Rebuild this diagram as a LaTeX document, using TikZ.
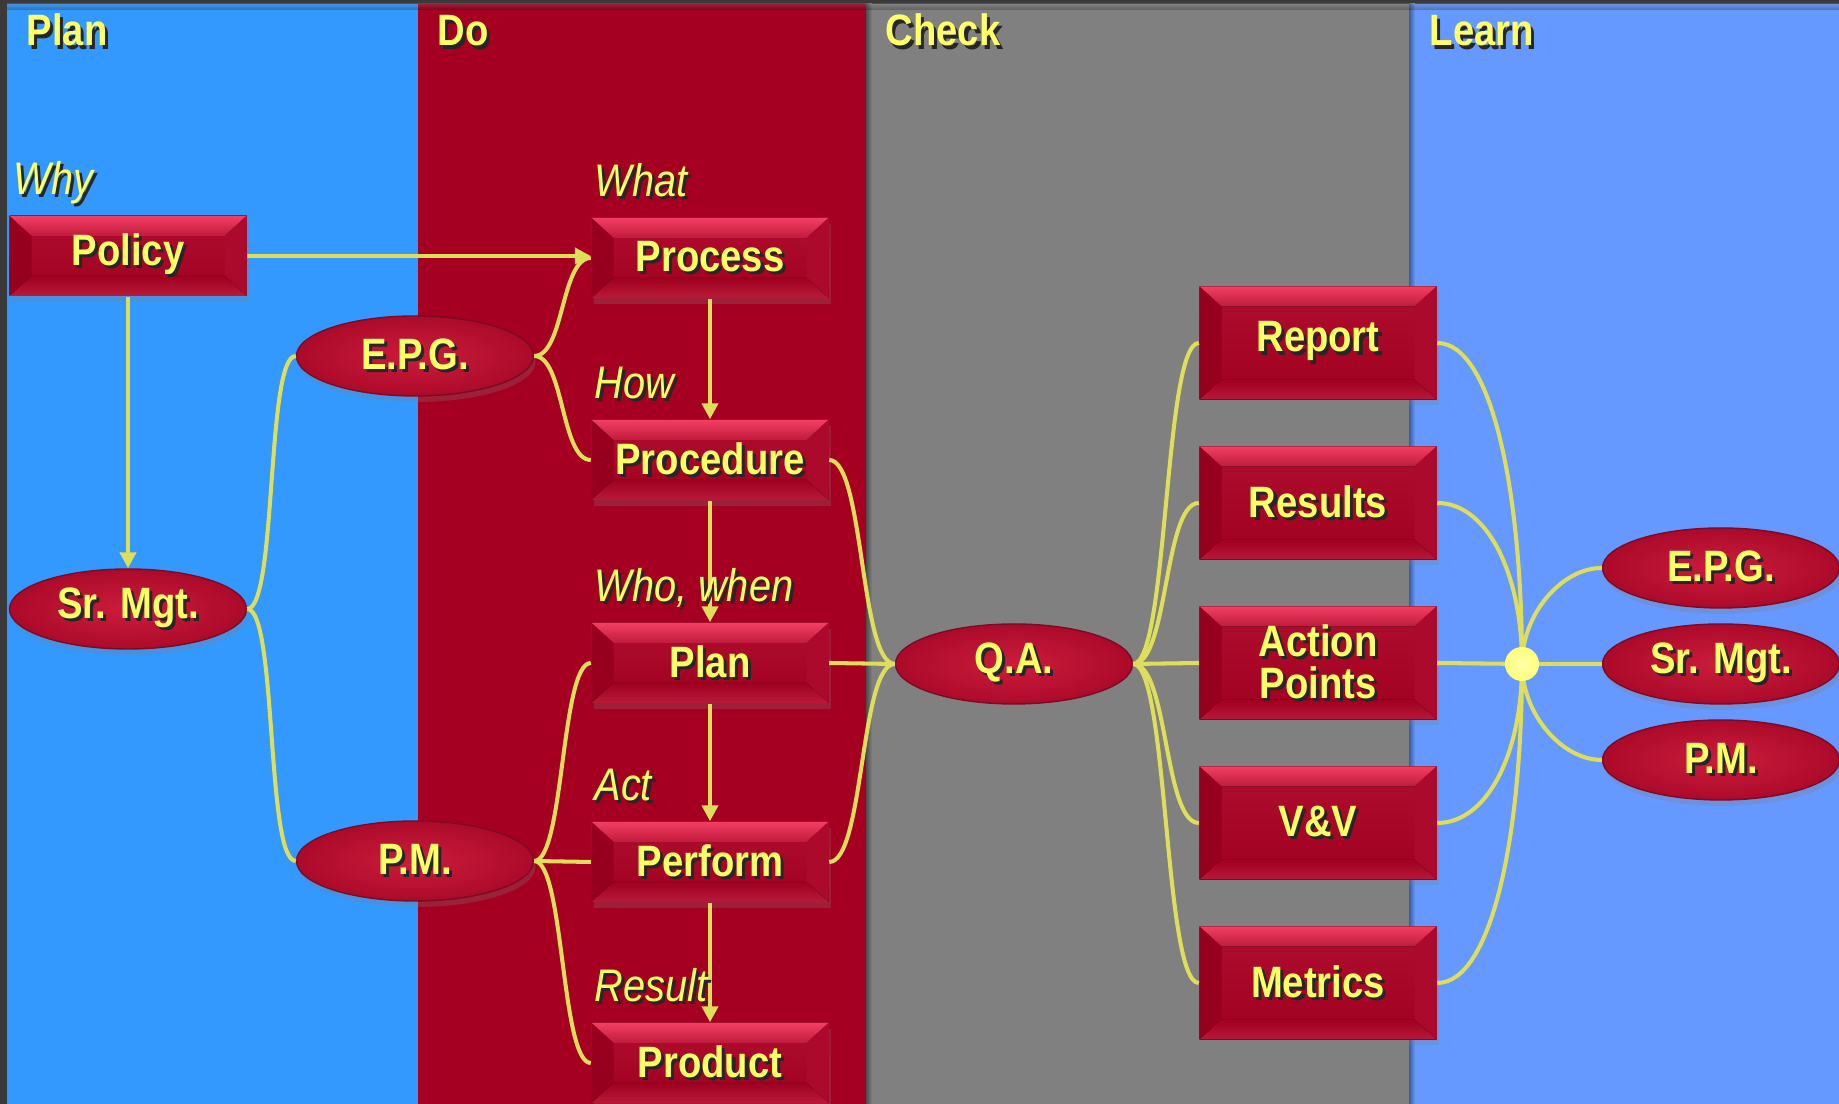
\documentclass[tikz,border=0pt]{standalone}
\usepackage{fontspec}
\setmainfont{Liberation Sans}[FakeStretch=0.87]
\usetikzlibrary{
	arrows.meta,
	calc,
	shadows,
	shapes.geometric,
}
\definecolor{plancol}{RGB}{51,153,255}
\definecolor{docol}{RGB}{165,0,33}
\definecolor{checkcol}{RGB}{128,128,128}
\definecolor{learncol}{RGB}{102,153,255}
\definecolor{edgecol}{RGB}{58,58,58}
\definecolor{linkcol}{RGB}{222,222,90}
\definecolor{txtyellow}{RGB}{255,255,102}
\definecolor{hubcol}{RGB}{255,255,120}
\definecolor{midtop}{RGB}{176,14,48}
\definecolor{midbot}{RGB}{160,0,32}
\definecolor{bvtop}{RGB}{242,62,98}
\definecolor{bvtopb}{RGB}{192,26,60}
\definecolor{bvleft}{RGB}{150,0,30}
\definecolor{bvright}{RGB}{172,10,45}
\definecolor{bvbot}{RGB}{160,0,32}
\definecolor{bvbotb}{RGB}{186,26,56}
\definecolor{ellin}{RGB}{204,28,60}
\definecolor{ellout}{RGB}{172,10,42}
\definecolor{ellline}{RGB}{125,10,36}
\newcommand{\boxfont}{\fontsize{12.5}{12}\selectfont\bfseries}
\newcommand{\lblfont}{\fontsize{13}{13}\selectfont\itshape}
\newcommand{\shd}[1]{\leavevmode\rlap{\hspace{0.9pt}\raisebox{-0.9pt}{\color{black!85}#1}}#1}
\tikzset{
	bevel/.style={rectangle, minimum width=2.37cm, minimum height=0.8cm, inner sep=0pt,
		top color=midtop, bottom color=midbot, text=txtyellow, font=\boxfont, align=center,
		drop shadow={shadow xshift=0.02cm, shadow yshift=-0.06cm, opacity=0.25},
		path picture={
			\coordinate (bnw) at (path picture bounding box.north west);
			\coordinate (bne) at (path picture bounding box.north east);
			\coordinate (bsw) at (path picture bounding box.south west);
			\coordinate (bse) at (path picture bounding box.south east);
			\fill[top color=bvtop, bottom color=bvtopb] (bnw) -- (bne) -- ($(bne)+(-0.22,-0.2)$) -- ($(bnw)+(0.22,-0.2)$) -- cycle;
			\fill[bvleft] (bnw) -- ($(bnw)+(0.22,-0.2)$) -- ($(bsw)+(0.22,0.2)$) -- (bsw) -- cycle;
			\fill[bvright] (bne) -- ($(bne)+(-0.22,-0.2)$) -- ($(bse)+(-0.22,0.2)$) -- (bse) -- cycle;
			\fill[top color=bvbot, bottom color=bvbotb] (bsw) -- (bse) -- ($(bse)+(-0.22,0.2)$) -- ($(bsw)+(0.22,0.2)$) -- cycle;
		}},
	tallbox/.style={bevel, minimum height=1.13cm},
	oval/.style={ellipse, minimum width=2.37cm, minimum height=0.8cm, inner sep=0pt,
		inner color=ellin, outer color=ellout, draw=ellline, line width=0.4pt,
		text=txtyellow, font=\boxfont,
		drop shadow={shadow xshift=0.02cm, shadow yshift=-0.06cm, opacity=0.25}},
	head/.style={text=txtyellow, font=\boxfont, inner sep=0pt, anchor=base west},
	lbl/.style={text=txtyellow, font=\lblfont, inner sep=0pt, anchor=base west},
	link/.style={draw=linkcol, line width=1.15pt},
	arr/.style={link, -{Triangle[length=1.6mm, width=1.6mm]}},
}
\begin{document}
\begin{tikzpicture}
	\useasboundingbox (0,0) rectangle (18.39,11.04);
	\clip (0,0) rectangle (18.39,11.04);
	\fill[edgecol] (0,0) rectangle (18.39,11.04);
	\fill[plancol] (0.07,0) rectangle (4.18,11.0);
	\fill[docol] (4.18,0) rectangle (8.66,11.0);
	\fill[checkcol] (8.66,0) rectangle (14.09,11.0);
	\fill[learncol] (14.09,0) rectangle (18.39,11.0);
	\shade[left color=black!40!checkcol, right color=checkcol] (8.66,0) rectangle (8.72,11.0);
	\shade[left color=black!40!learncol, right color=learncol] (14.09,0) rectangle (14.15,11.0);
	\shade[top color=black!50, bottom color=black, opacity=0.25] (0.07,10.94) rectangle (18.39,11.0);

	\node[head] (hplan) at (0.26,10.58) {\shd{Plan}};
	\node[head] (hdo) at (4.37,10.58) {\shd{Do}};
	\node[head] (hcheck) at (8.85,10.58) {\shd{Check}};
	\node[head] (hlearn) at (14.29,10.58) {\shd{Learn}};

	\node[bevel] (policy) at (1.28,8.48) {\shd{Policy}};
	\node[oval] (srmgt) at (1.28,4.95) {\shd{Sr. Mgt.}};
	\node[oval] (epg) at (4.15,7.48) {\shd{E.P.G.}};
	\node[oval] (pm) at (4.15,2.43) {\shd{P.M.}};
	\node[bevel] (process) at (7.10,8.46) {\shd{Process}};
	\node[bevel] (procedure) at (7.10,6.44) {\shd{Procedure}};
	\node[bevel] (plan) at (7.10,4.41) {\shd{Plan}};
	\node[bevel] (perform) at (7.10,2.42) {\shd{Perform}};
	\node[bevel] (product) at (7.10,0.41) {\shd{Product}};
	\node[oval] (qa) at (10.14,4.40) {\shd{Q.A.}};
	\node[tallbox] (report) at (13.18,7.61) {\shd{Report}};
	\node[tallbox] (results) at (13.18,6.01) {\shd{Results}};
	\node[tallbox] (action) at (13.18,4.41) {\shd{Action}\\\shd{Points}};
	\node[tallbox] (vv) at (13.18,2.81) {\shd{V\&V}};
	\node[tallbox] (metrics) at (13.18,1.21) {\shd{Metrics}};
	\node[oval] (epgb) at (17.21,5.36) {\shd{E.P.G.}};
	\node[oval] (srmgtb) at (17.21,4.40) {\shd{Sr. Mgt.}};
	\node[oval] (pmb) at (17.21,3.44) {\shd{P.M.}};

	\draw[arr] (policy.east) -- (policy.east -| process.west);
	\draw[arr] (policy.south) -- (srmgt.north);
	\draw[arr] (process.south) -- (procedure.north);
	\draw[arr] (procedure.south) -- (plan.north);
	\draw[arr] (plan.south) -- (perform.north);
	\draw[arr] (perform.south) -- (product.north);
	\draw[link] (srmgt.east) .. controls +(0.3,0) and +(-0.3,0) .. (epg.west);
	\draw[link] (srmgt.east) .. controls +(0.3,0) and +(-0.3,0) .. (pm.west);
	\draw[link] (epg.east) .. controls +(0.3,0) and +(-0.3,0) .. (process.west);
	\draw[link] (epg.east) .. controls +(0.3,0) and +(-0.3,0) .. (procedure.west);
	\draw[link] (pm.east) .. controls +(0.3,0) and +(-0.3,0) .. (plan.west);
	\draw[link] (pm.east) -- (perform.west);
	\draw[link] (pm.east) .. controls +(0.3,0) and +(-0.3,0) .. (product.west);
	\draw[link] (procedure.east) .. controls +(0.35,0) and +(-0.35,0) .. (qa.west);
	\draw[link] (plan.east) -- (qa.west);
	\draw[link] (perform.east) .. controls +(0.35,0) and +(-0.35,0) .. (qa.west);
	\draw[link] (qa.east) .. controls +(0.35,0) and +(-0.35,0) .. (report.west);
	\draw[link] (qa.east) .. controls +(0.35,0) and +(-0.35,0) .. (results.west);
	\draw[link] (qa.east) -- (action.west);
	\draw[link] (qa.east) .. controls +(0.35,0) and +(-0.35,0) .. (vv.west);
	\draw[link] (qa.east) .. controls +(0.35,0) and +(-0.35,0) .. (metrics.west);
	\coordinate (hubc) at (15.22,4.40);
	\draw[link] (report.east) .. controls +(0.55,0) and +(0,1.7) .. (hubc);
	\draw[link] (results.east) .. controls +(0.5,0) and +(0,0.9) .. (hubc);
	\draw[link] (action.east) -- (hubc);
	\draw[link] (vv.east) .. controls +(0.5,0) and +(0,-0.9) .. (hubc);
	\draw[link] (metrics.east) .. controls +(0.55,0) and +(0,-1.7) .. (hubc);
	\draw[link] (hubc) .. controls +(0,0.5) and +(-0.4,0) .. (epgb.west);
	\draw[link] (hubc) -- (srmgtb.west);
	\draw[link] (hubc) .. controls +(0,-0.5) and +(-0.4,0) .. (pmb.west);
	\node[circle, minimum size=0.34cm, inner sep=0pt, inner color=white!40!hubcol, outer color=hubcol] (hub) at (hubc) {};

	\node[lbl] (why) at ($(policy.north west)+(0.04,0.21)$) {\shd{Why}};
	\node[lbl] (what) at ($(process.north west)+(0.03,0.21)$) {\shd{What}};
	\node[lbl] (how) at ($(procedure.north west)+(0.03,0.21)$) {\shd{How}};
	\node[lbl] (whowhen) at ($(plan.north west)+(0.03,0.21)$) {\shd{Who, when}};
	\node[lbl] (act) at ($(perform.north west)+(0.03,0.21)$) {\shd{Act}};
	\node[lbl] (result) at ($(product.north west)+(0.03,0.21)$) {\shd{Result}};
\end{tikzpicture}
\end{document}
